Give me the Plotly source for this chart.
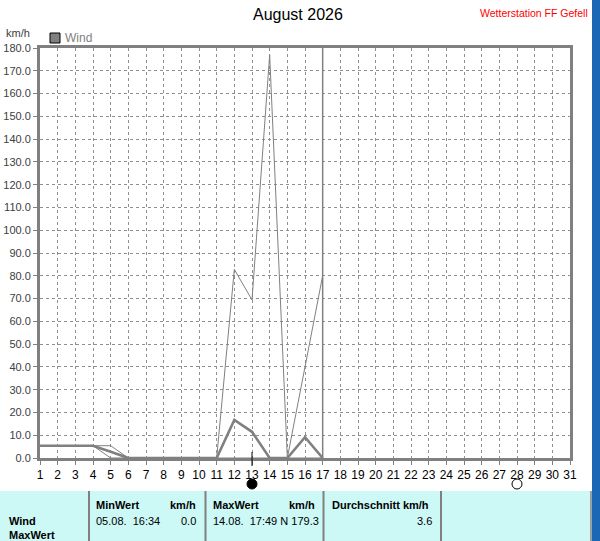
import plotly.graph_objects as go

# --- data ---
days = list(range(1, 18))
wind_max = [5.4, 5.4, 5.4, 5.4, 5.4, 0, 0, 0, 0, 0, 0, 82.8, 69.4, 177.0, 0, 40.0, 80.0]
wind_avg = [5.4, 5.4, 5.4, 5.4, 2.7, 0, 0, 0, 0, 0, 0, 16.7, 11.5, 0, 0, 9.1, 0]
wind_min = [5.4, 5.4, 5.4, 5.4, 0, 0, 0, 0, 0, 0, 0, 0, 0, 0, 0, 0, 0]
x_ticks = list(range(1, 32))
y_ticks = list(range(0, 181, 10))
today = 17
new_moon = 13
full_moon = 28

W, H = 600, 541
L, R, T, B = 40, 570, 48, 458  # plot area in pixels
GREY = "#808080"
FONT = "Liberation Sans"


def px(x):
    return (x - L) / (R - L)


def py(y):
    return (B - y) / (B - T)


fig = go.Figure()
fig.add_trace(go.Scatter(x=days, y=wind_max, mode="lines",
                         line=dict(color=GREY, width=1), showlegend=False))
fig.add_trace(go.Scatter(x=days, y=wind_min, mode="lines",
                         line=dict(color=GREY, width=1), showlegend=False))
fig.add_trace(go.Scatter(x=days, y=wind_avg, mode="lines",
                         line=dict(color=GREY, width=2.6), showlegend=False))

shapes = [
    # current day marker
    dict(type="line", xref="x", yref="y", x0=today, x1=today, y0=0, y1=180,
         line=dict(color=GREY, width=1.5)),
    # tick at new moon day
    dict(type="line", xref="x", yref="paper", x0=new_moon, x1=new_moon,
         y0=py(466), y1=py(452), line=dict(color="black", width=1)),
    dict(type="circle", xref="x", yref="paper", xsizemode="pixel", ysizemode="pixel",
         xanchor=new_moon, yanchor=py(484), x0=-5, x1=5, y0=-5, y1=5,
         fillcolor="black", line=dict(color="black", width=1)),
    dict(type="circle", xref="x", yref="paper", xsizemode="pixel", ysizemode="pixel",
         xanchor=full_moon, yanchor=py(484), x0=-5, x1=5, y0=-5, y1=5,
         fillcolor="white", line=dict(color="black", width=1)),
    # legend swatch
    dict(type="rect", xref="paper", yref="paper", x0=px(50), x1=px(60), y0=py(43), y1=py(33),
         fillcolor=GREY, line=dict(color="black", width=1)),
    # table background
    dict(type="rect", xref="paper", yref="paper", x0=px(0), x1=px(591), y0=py(541), y1=py(491),
         fillcolor="#CCF8F6", line=dict(width=0), layer="below"),
    # right window strip
    dict(type="rect", xref="paper", yref="paper", x0=px(592), x1=px(600), y0=py(541), y1=py(0),
         fillcolor="#1B67B5", line=dict(width=0)),
    dict(type="line", xref="paper", yref="paper", x0=px(591), x1=px(591), y0=py(541), y1=py(491),
         line=dict(color=GREY, width=1.5)),
]
for sx in [89, 205.5, 323.5, 441]:
    shapes.append(dict(type="line", xref="paper", yref="paper", x0=px(sx), x1=px(sx),
                       y0=py(541), y1=py(491), line=dict(color=GREY, width=2)))


def txt(x, y, s, anchor="left", size=11, color="black", bold=False):
    return dict(xref="paper", yref="paper", x=px(x), y=py(y), text=f"<b>{s}</b>" if bold else s,
                showarrow=False, xanchor=anchor, yanchor="middle",
                font=dict(family=FONT, size=size, color=color))


annotations = [
    txt(298, 15, "August 2026", anchor="center", size=16),
    txt(590, 13, "Wetterstation FF Gefell", anchor="right", size=10.5, color="red"),
    txt(4, 33, "km/h", size=11, color="#404040"),
    txt(63, 38, "Wind", size=12, color=GREY),
    txt(94, 505, "MinWert", bold=True),
    txt(198, 505, "km/h", anchor="right", bold=True),
    txt(211, 505, "MaxWert", bold=True),
    txt(317, 505, "km/h", anchor="right", bold=True),
    txt(330, 505, "Durchschnitt km/h", bold=True),
    txt(7, 521, "Wind", bold=True),
    txt(94, 521, "05.08.&nbsp;&nbsp;16:34"),
    txt(198, 521, "0.0", anchor="right"),
    txt(211, 521, "14.08.&nbsp;&nbsp;17:49 N 179.3"),
    txt(434, 521, "3.6", anchor="right"),
    txt(7, 535, "MaxWert", bold=True),
]

fig.update_layout(
    width=W, height=H,
    margin=dict(l=L, r=W - R, t=T, b=H - B, pad=0),
    paper_bgcolor="white", plot_bgcolor="white",
    font=dict(family=FONT, size=12, color="black"),
    showlegend=False,
    shapes=shapes, annotations=annotations,
)
axis_common = dict(showgrid=True, gridcolor="#909090", griddash="3px,3px", gridwidth=1,
                   showline=True, mirror=True, linecolor=GREY, linewidth=3,
                   ticks="outside", ticklen=4, tickcolor=GREY, zeroline=False,
                   automargin=False, fixedrange=True)
fig.update_xaxes(range=[1, 31], tickvals=x_ticks, ticktext=[str(d) for d in x_ticks],
                 tickfont=dict(family=FONT, size=12, color="black"), **axis_common)
fig.update_yaxes(range=[0, 180], tickvals=y_ticks, ticktext=[f"{v:.1f}" for v in y_ticks],
                 tickfont=dict(family=FONT, size=11, color="#404040"), **axis_common)

fig.write_html("out.html", config={"displayModeBar": False},
               post_script="document.body.style.margin='0';document.body.style.overflow='hidden';")
